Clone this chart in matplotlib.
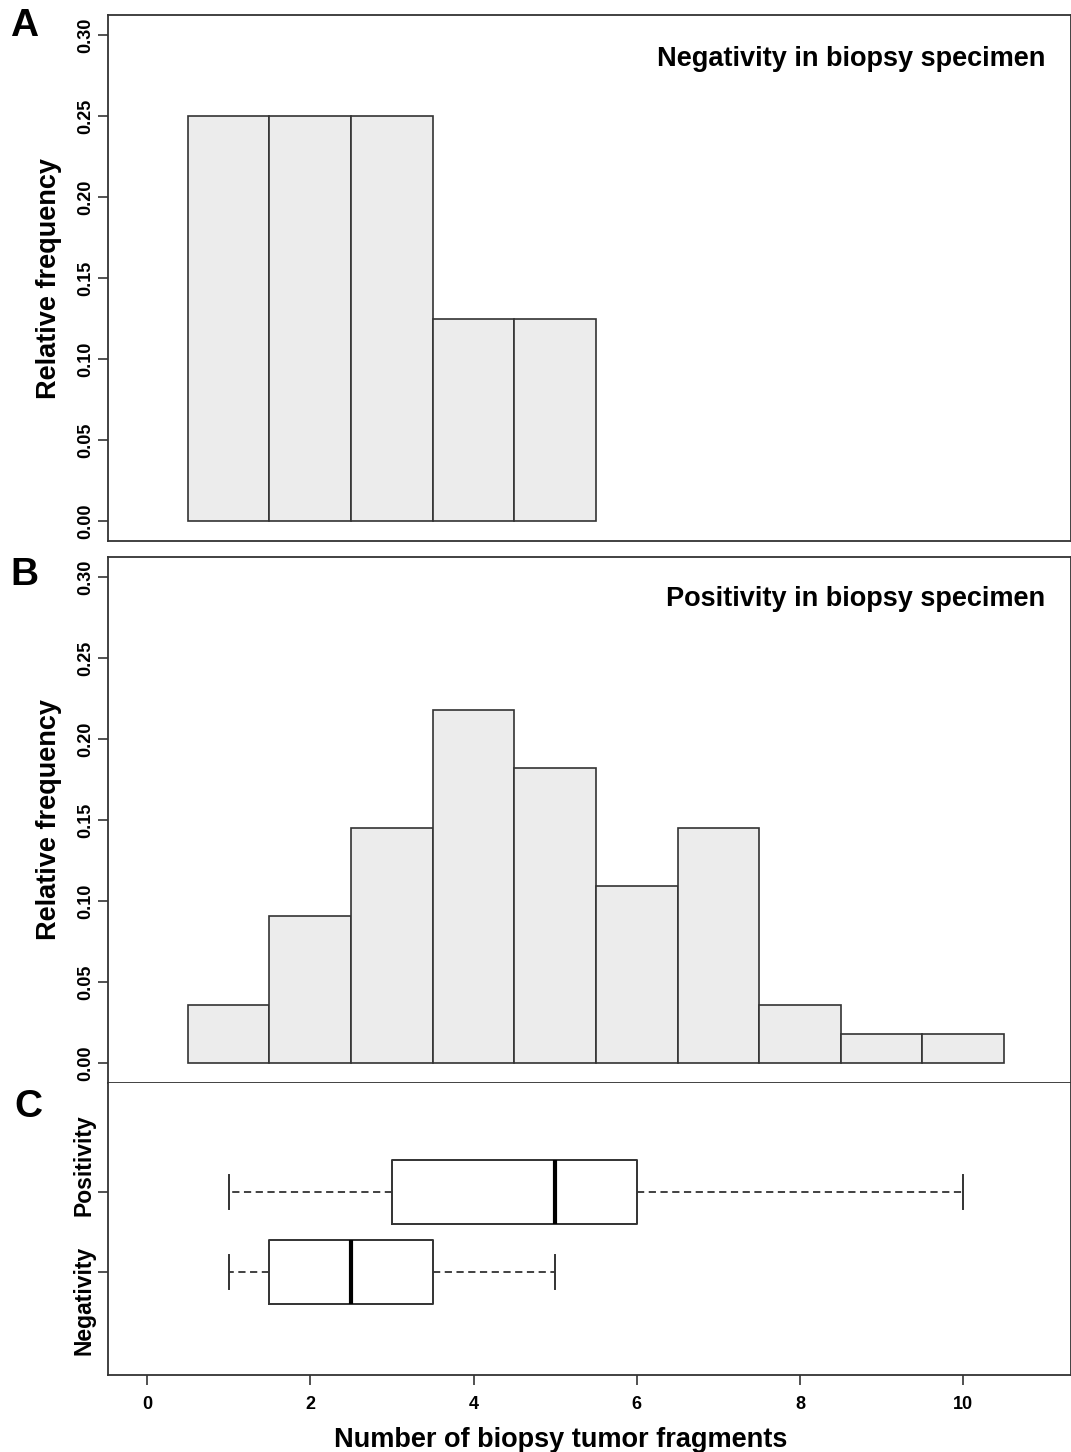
#!/usr/bin/env python3
"""Histograms of biopsy tumor fragments plus horizontal boxplots."""

import matplotlib.pyplot as plt

plt.rcParams["font.family"] = ["Liberation Sans", "DejaVu Sans"]
plt.rcParams["font.weight"] = "bold"

# histogram data (bin centres, relative frequency)
neg_bins = [1, 2, 3, 4, 5]
neg_freq = [0.25, 0.25, 0.25, 0.125, 0.125]
pos_bins = [1, 2, 3, 4, 5, 6, 7, 8, 9, 10]
pos_freq = [0.036, 0.091, 0.145, 0.218, 0.182, 0.109, 0.145, 0.036, 0.018, 0.018]

# boxplot summaries: whisker low, q1, median, q3, whisker high
box_labels = ["Negativity", "Positivity"]
box_stats = [
    (1, 1.5, 2.5, 3.5, 5),
    (1, 3, 5, 6, 10),
]

yticks = [0.0, 0.05, 0.10, 0.15, 0.20, 0.25, 0.30]
xticks = [0, 2, 4, 6, 8, 10]

W, H = 1071, 1452
fig = plt.figure(figsize=(W / 100, H / 100), dpi=100)


def px_axes(left, top, right, bottom):
    return fig.add_axes([left / W, 1 - bottom / H, (right - left) / W, (bottom - top) / H])


edge = "#333333"
XLIM = (-0.478, 11.32)


def style_spines(ax):
    for s in ax.spines.values():
        s.set_color(edge)
        s.set_linewidth(1.3)


def hist_panel(ax, bins, freq, title, title_y):
    ax.bar(bins, freq, width=1.0, color="#ececec", edgecolor=edge, linewidth=1.2)
    ax.set_xlim(*XLIM)
    ax.set_ylim(-0.0123, 0.3123)
    ax.set_yticks(yticks)
    ax.set_yticklabels([f"{v:.2f}" for v in yticks], rotation=90, va="center", fontsize=13)
    ax.set_xticks([])
    ax.set_ylabel("Relative frequency", fontsize=19.5, fontweight="bold")
    ax.yaxis.set_label_coords(-0.048, 0.5)
    ax.tick_params(axis="y", length=7, width=1.2, color=edge, pad=3)
    style_spines(ax)
    ax.text(0.973, title_y, title, transform=ax.transAxes, ha="right", va="center",
            fontsize=19.5, fontweight="bold")
    return ax


axA = px_axes(108, 15, 1071, 541)
hist_panel(axA, neg_bins, neg_freq, "Negativity in biopsy specimen", 0.916)

axB = px_axes(108, 557, 1071, 1083)
hist_panel(axB, pos_bins, pos_freq, "Positivity in biopsy specimen", 0.92)

axC = px_axes(108, 1083, 1071, 1375)
stats = []
for lab, (lo, q1, med, q3, hi) in zip(box_labels, box_stats):
    stats.append(dict(label=lab, whislo=lo, q1=q1, med=med, q3=q3, whishi=hi, fliers=[]))
axC.bxp(stats, positions=[1, 2], widths=0.8, vert=False,
        boxprops=dict(color=edge, linewidth=1.4),
        medianprops=dict(color="black", linewidth=3),
        whiskerprops=dict(color=edge, linewidth=1.3, linestyle=(0, (4, 2.5))),
        capprops=dict(color=edge, linewidth=1.4), capwidths=0.42)
axC.set_xlim(*XLIM)
axC.set_ylim(-0.2875, 3.3625)
axC.set_xticks(xticks)
axC.set_xticklabels([str(v) for v in xticks], fontsize=13)
axC.set_yticks([1, 2])
axC.set_yticklabels([])
axC.tick_params(axis="both", length=7, width=1.2, color=edge)
axC.tick_params(axis="x", pad=8)
axC.set_xlabel("Number of biopsy tumor fragments", fontsize=19.5, fontweight="bold", labelpad=10)
axC.xaxis.set_label_coords(0.47, -0.178)
style_spines(axC)
axC.spines["top"].set_visible(False)

# group labels sit a little off their ticks, as in the source figure
fig.text(84 / W, 1 - 1165 / H, box_labels[1], rotation=90, ha="center", va="center", fontsize=16.5)
fig.text(84 / W, 1 - 1300 / H, box_labels[0], rotation=90, ha="center", va="center", fontsize=16.5)

for letter, x, y in [("A", 10, 26), ("B", 10, 575), ("C", 14, 1107)]:
    fig.text(x / W, 1 - y / H, letter, fontsize=28, fontweight="bold", va="center", ha="left")

fig.savefig("out.png", dpi=100)
